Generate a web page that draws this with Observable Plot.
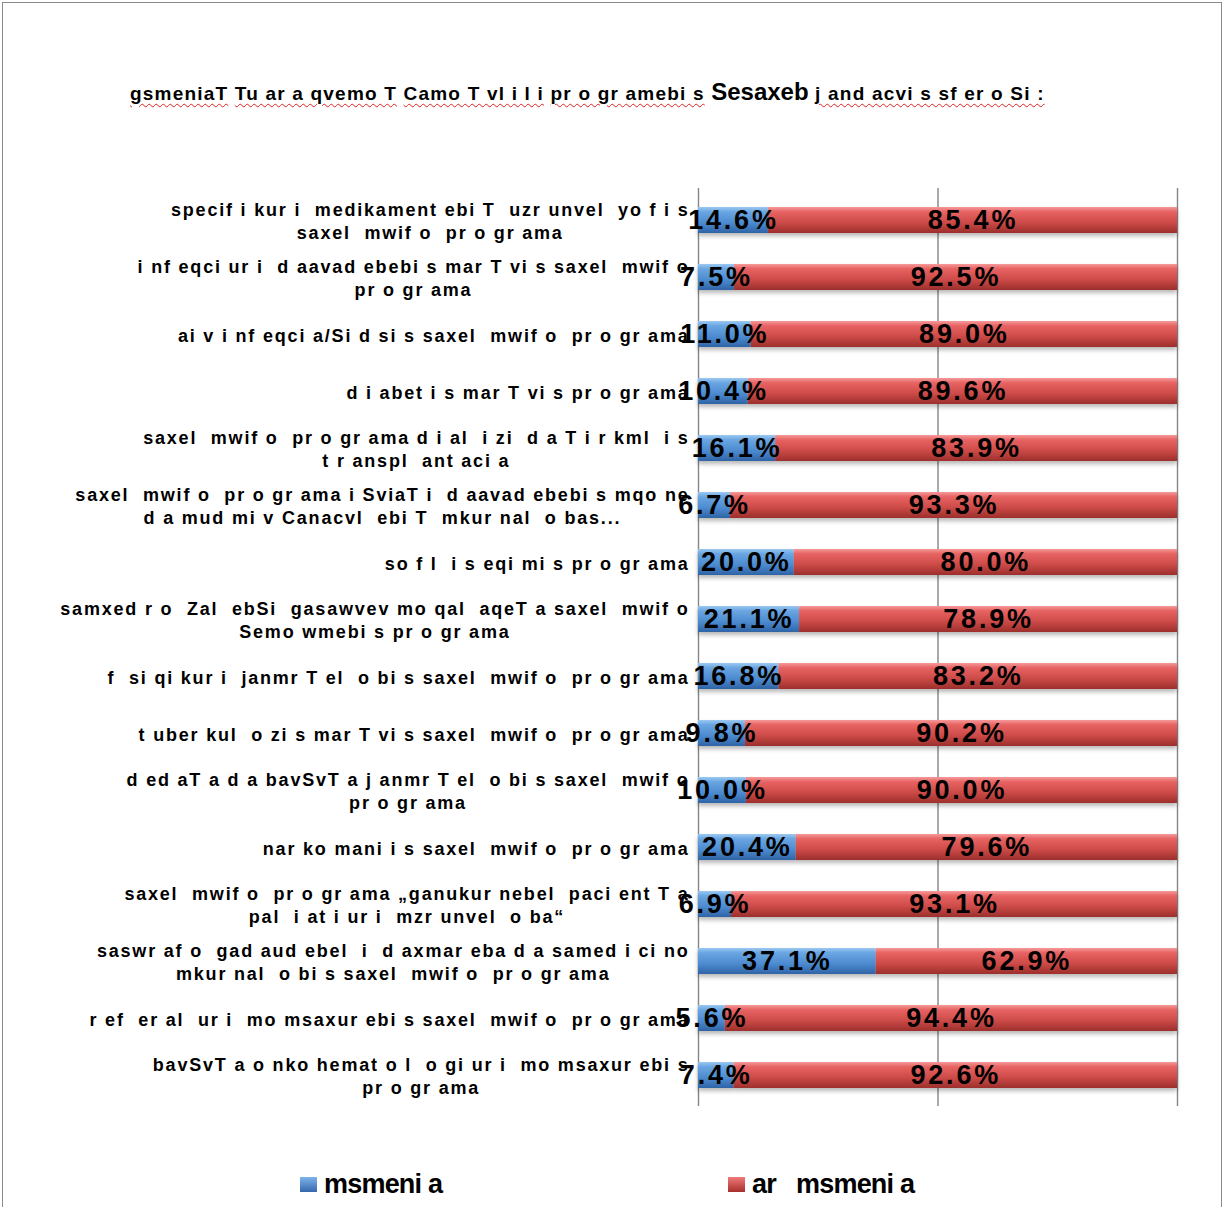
<!DOCTYPE html>
<html>
<head>
<meta charset="utf-8">
<script src="https://cdn.jsdelivr.net/npm/d3@7"></script>
<script src="https://cdn.jsdelivr.net/npm/@observablehq/plot@0.6"></script>
<style>
  body { margin: 0; background: #fff; }
  #page { position: relative; width: 1224px; height: 1207px; overflow: hidden; background: #fff; }
  #frame { position: absolute; left: 2px; top: 2px; width: 1220px; height: 1230px; border: 1px solid #8a8a8a; box-sizing: border-box; }
  #title { position: absolute; left: 130px; top: 78px; white-space: pre; font-family: "Liberation Sans Narrow", "Arial Narrow", "Liberation Sans", sans-serif; font-weight: bold; font-size: 19px; letter-spacing: 1.2px; color: #000; }
  #title .u { text-decoration: underline wavy #e02020; text-decoration-thickness: 1px; text-underline-offset: 3px; }
  #title .big { font-size: 24px; letter-spacing: 0; }
  #chart { position: absolute; left: 0; top: 150px; }
  #legend { position: absolute; left: 0; top: 1169px; width: 1224px; height: 40px; font-family: "Liberation Sans Narrow", "Arial Narrow", "Liberation Sans", sans-serif; font-weight: bold; font-size: 27px; letter-spacing: -0.8px; color: #000; white-space: pre; }
  .li { position: absolute; top: 0; display: flex; align-items: center; }
  .sw { width: 17px; height: 15px; margin-right: 7px; }
</style>
</head>
<body>
<div id="page">
  <div id="frame"></div>
  <div id="title"></div>
  <div id="chart"></div>
  <div id="legend"></div>
</div>
<script>
// ---- data ----
const titleParts = [
  ["gsmeniaT", "u"], [" ", ""], ["Tu ar a qvemo T", "u"], [" ", ""], ["Camo T vl i l i", "u"], [" ", ""],
  ["pr o gr amebi s", "u"], [" ", ""], ["Sesaxeb", "big"], [" ", ""], ["j and acvi s sf er o Si :", "u"]
];
const categories = [
  "specif i kur i  medikament ebi T  uzr unvel  yo f i s\nsaxel  mwif o  pr o gr ama",
  "i nf eqci ur i  d aavad ebebi s mar T vi s saxel  mwif o\npr o gr ama",
  "ai v i nf eqci a/Si d si s saxel  mwif o  pr o gr ama",
  "d i abet i s mar T vi s pr o gr ama",
  "saxel  mwif o  pr o gr ama d i al  i zi  d a T i r kml  i s\nt r anspl  ant aci a",
  "saxel  mwif o  pr o gr ama i SviaT i  d aavad ebebi s mqo ne\nd a mud mi v Canacvl  ebi T  mkur nal  o bas...",
  "so f l  i s eqi mi s pr o gr ama",
  "samxed r o  Zal  ebSi  gasawvev mo qal  aqeT a saxel  mwif o\nSemo wmebi s pr o gr ama",
  "f  si qi kur i  janmr T el  o bi s saxel  mwif o  pr o gr ama",
  "t uber kul  o zi s mar T vi s saxel  mwif o  pr o gr ama",
  "d ed aT a d a bavSvT a j anmr T el  o bi s saxel  mwif o\npr o gr ama",
  "nar ko mani i s saxel  mwif o  pr o gr ama",
  "saxel  mwif o  pr o gr ama „ganukur nebel  paci ent T a\npal  i at i ur i  mzr unvel  o ba“",
  "saswr af o  gad aud ebel  i  d axmar eba d a samed i ci no\nmkur nal  o bi s saxel  mwif o  pr o gr ama",
  "r ef  er al  ur i  mo msaxur ebi s saxel  mwif o  pr o gr ama",
  "bavSvT a o nko hemat o l  o gi ur i  mo msaxur ebi s\npr o gr ama"
];
const yesValues = [14.6, 7.5, 11.0, 10.4, 16.1, 6.7, 20.0, 21.1, 16.8, 9.8, 10.0, 20.4, 6.9, 37.1, 5.6, 7.4];
const noValues  = [85.4, 92.5, 89.0, 89.6, 83.9, 93.3, 80.0, 78.9, 83.2, 90.2, 90.0, 79.6, 93.1, 62.9, 94.4, 92.6];
const seriesNames = ["msmeni a", "ar   msmeni a"];
const gridTicks = [0, 50, 100];

// ---- table ----
const table = [];
seriesNames.forEach((s, k) => {
  const vals = k === 0 ? yesValues : noValues;
  categories.forEach((c, i) => table.push({cat: c, series: s, value: vals[i]}));
});

// ---- title ----
const titleEl = document.getElementById("title");
titleParts.forEach(([t, cls]) => {
  const sp = document.createElement("span");
  sp.textContent = t;
  if (cls) sp.className = cls;
  titleEl.appendChild(sp);
});

const labelFont = '"Liberation Sans Narrow", "Arial Narrow", "Liberation Sans", sans-serif';

const plot = Plot.plot({
  width: 1224,
  height: 970,
  marginLeft: 698,
  marginRight: 47,
  marginTop: 38,
  marginBottom: 14,
  x: {domain: [0, 100], axis: null},
  y: {domain: categories, paddingInner: 0.55, paddingOuter: 0.275, label: null},
  color: {domain: seriesNames, range: ["url(#gBlue)", "url(#gRed)"]},
  style: {background: "transparent"},
  marks: [
    Plot.ruleX(gridTicks, {stroke: "#858585", strokeWidth: 1.4}),
    Plot.barX(table, Plot.stackX({x: "value", y: "cat", fill: "series", order: null})),
    Plot.axisY({tickSize: 0, tickPadding: 9, fontSize: 18, lineHeight: 1.25, fill: "#000",
      tickFormat: d => d, fontFamily: labelFont, fontWeight: "bold", label: null}),
    Plot.text(table, Plot.stackX({x: "value", y: "cat", text: d => d.value.toFixed(1) + "%", order: null,
      fontSize: 27, fontWeight: "bold", fill: "#000", fontFamily: '"Liberation Sans", Arial, sans-serif'}))
  ]
});

// gradients & shadow
const ns = "http://www.w3.org/2000/svg";
const defs = document.createElementNS(ns, "defs");
defs.innerHTML = `
  <linearGradient id="gBlue" x1="0" y1="0" x2="0" y2="1">
    <stop offset="0" stop-color="#9cc9f2"/>
    <stop offset="0.18" stop-color="#6aa6e2"/>
    <stop offset="0.6" stop-color="#4d8bd0"/>
    <stop offset="1" stop-color="#2f64a6"/>
  </linearGradient>
  <linearGradient id="gRed" x1="0" y1="0" x2="0" y2="1">
    <stop offset="0" stop-color="#f59a9a"/>
    <stop offset="0.18" stop-color="#e86464"/>
    <stop offset="0.6" stop-color="#cc4a47"/>
    <stop offset="1" stop-color="#9c2f2c"/>
  </linearGradient>`;
plot.insertBefore(defs, plot.firstChild);
plot.querySelectorAll('g[aria-label="bar"]').forEach(g => g.style.filter = "drop-shadow(0px 3px 2px rgba(0,0,0,0.28))");
plot.querySelectorAll('g[aria-label="text"] text').forEach(t => t.setAttribute("letter-spacing", "2.8"));

document.getElementById("chart").appendChild(plot);

// widen & center multi-line category labels like the reference
plot.querySelectorAll('g[aria-label="y-axis tick label"] text').forEach(t => {
  t.style.whiteSpace = "pre";
  t.setAttribute("letter-spacing", "1.8");
  const spans = t.querySelectorAll("tspan");
  if (spans.length > 1) {
    const w = t.getBBox().width;
    t.setAttribute("text-anchor", "middle");
    spans.forEach(s => s.setAttribute("x", -w / 2));
  }
});

// legend
const legendEl = document.getElementById("legend");
const legendX = [300, 728];
const swatchColors = [["#7fb3ea", "#3468ad"], ["#ef7a78", "#a8302d"]];
seriesNames.forEach((s, k) => {
  const item = document.createElement("div");
  item.className = "li";
  item.style.left = legendX[k] + "px";
  const sw = document.createElement("div");
  sw.className = "sw";
  sw.style.background = `linear-gradient(${swatchColors[k][0]}, ${swatchColors[k][1]})`;
  const tx = document.createElement("span");
  tx.textContent = s;
  item.appendChild(sw); item.appendChild(tx);
  legendEl.appendChild(item);
});
</script>
</body>
</html>
